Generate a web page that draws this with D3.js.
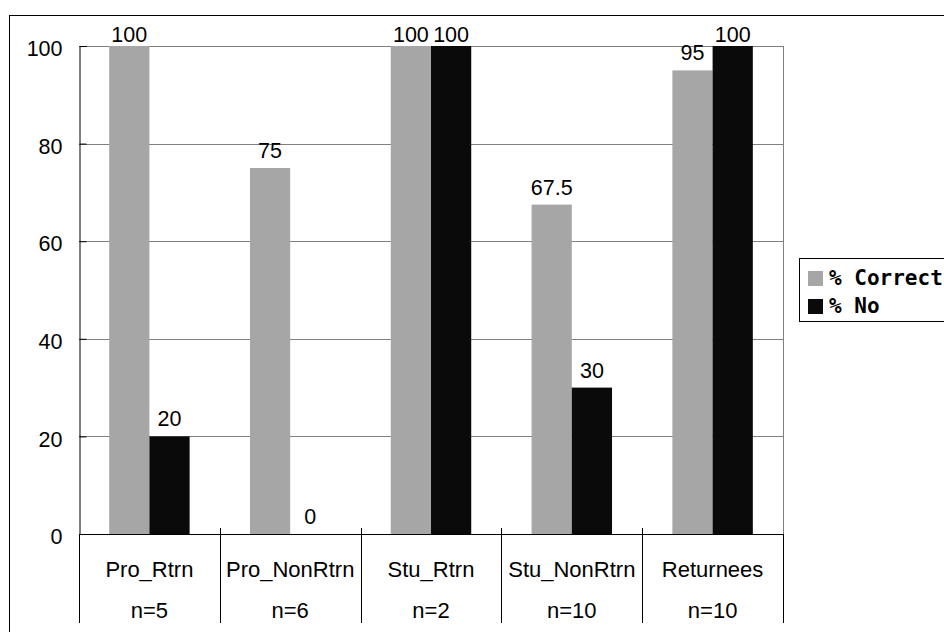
<!DOCTYPE html>
<html>
<head>
<meta charset="utf-8">
<script src="https://cdn.jsdelivr.net/npm/d3@7"></script>
<style>
  html, body { margin: 0; padding: 0; background: #fff; }
  svg { display: block; }
</style>
</head>
<body>
<svg id="chart" width="944" height="632"></svg>
<script>
const categories = ["Pro_Rtrn", "Pro_NonRtrn", "Stu_Rtrn", "Stu_NonRtrn", "Returnees"];
const sampleSizes = ["n=5", "n=6", "n=2", "n=10", "n=10"];
const seriesNames = ["% Correct", "% No"];
const correctValues = [100, 75, 100, 67.5, 95];
const noValues = [20, 0, 100, 30, 100];
const yTicks = [0, 20, 40, 60, 80, 100];
const seriesColors = ["#a6a6a6", "#0a0a0a"];

const svg = d3.select("#chart");
const font = "'Liberation Sans', Arial, sans-serif";
const fs = 21.5;
const plot = { left: 79, top: 46, right: 783, bottom: 534 };

// outer chart border (extends past the window on right and bottom)
svg.append("rect")
  .attr("x", 9.5).attr("y", 15.5)
  .attr("width", 1000).attr("height", 700)
  .attr("fill", "none").attr("stroke", "#000").attr("stroke-width", 1);

const x = d3.scaleBand().domain(categories).range([plot.left, plot.right]).paddingInner(0).paddingOuter(0);
const gapFrac = 0.75 / 3.5; // Excel gap width 150%
const x1 = d3.scaleBand().domain(seriesNames)
  .range([x.bandwidth() * gapFrac, x.bandwidth() * (1 - gapFrac)]).padding(0);
const y = d3.scaleLinear().domain([0, 100]).range([plot.bottom, plot.top]);

// gridlines
svg.append("g").selectAll("line").data(yTicks.filter(t => t > 0)).join("line")
  .attr("x1", plot.left).attr("x2", plot.right)
  .attr("y1", d => Math.round(y(d)) + 0.5).attr("y2", d => Math.round(y(d)) + 0.5)
  .attr("stroke", "#808080").attr("stroke-width", 1);

// plot right border
svg.append("line")
  .attr("x1", plot.right + 0.5).attr("x2", plot.right + 0.5)
  .attr("y1", plot.top).attr("y2", plot.bottom)
  .attr("stroke", "#808080");

// bars
const rows = categories.map((c, i) => ({ cat: c, vals: [correctValues[i], noValues[i]] }));
const groups = svg.append("g").selectAll("g").data(rows).join("g")
  .attr("transform", d => `translate(${x(d.cat)},0)`);
groups.selectAll("rect").data(d => d.vals.map((v, j) => ({ v, s: seriesNames[j], j }))).join("rect")
  .attr("x", d => x1(d.s))
  .attr("width", x1.bandwidth())
  .attr("y", d => y(d.v))
  .attr("height", d => y(0) - y(d.v))
  .attr("fill", d => seriesColors[d.j]);

// data labels
groups.selectAll("text").data(d => d.vals.map((v, j) => ({ v, s: seriesNames[j] }))).join("text")
  .attr("x", d => x1(d.s) + x1.bandwidth() / 2)
  .attr("y", d => Math.max(y(d.v) - 10, plot.top - 4))
  .attr("text-anchor", "middle")
  .attr("font-family", font).attr("font-size", fs).attr("fill", "#000")
  .text(d => d.v);

// y axis
const yAxis = d3.axisLeft(y).tickValues(yTicks).tickSize(-7).tickPadding(0).tickFormat(d3.format("d"));
const gy = svg.append("g").attr("transform", `translate(${plot.left + 0.5},0)`).call(yAxis);
gy.select(".domain").attr("stroke", "#000");
gy.selectAll(".tick line").attr("stroke", "#000");
gy.selectAll(".tick text")
  .attr("x", 62 - plot.left).attr("dy", "0.36em").attr("y", 2)
  .attr("font-family", font).attr("font-size", fs).attr("fill", "#000");

// x axis line
svg.append("line")
  .attr("x1", plot.left).attr("x2", plot.right + 1)
  .attr("y1", plot.bottom + 0.5).attr("y2", plot.bottom + 0.5)
  .attr("stroke", "#000");

// category separators
const sepX = categories.map(c => x(c)).concat([x(categories[categories.length - 1]) + x.bandwidth()]);
svg.append("g").selectAll("line").data(sepX).join("line")
  .attr("x1", d => Math.round(d) + 0.5).attr("x2", d => Math.round(d) + 0.5)
  .attr("y1", (d, i) => (i === 0 || i === sepX.length - 1) ? plot.bottom : plot.bottom - 6)
  .attr("y2", 623)
  .attr("stroke", "#000");

// category labels
svg.append("g").selectAll("text").data(categories).join("text")
  .attr("x", d => x(d) + x.bandwidth() / 2).attr("y", 577)
  .attr("text-anchor", "middle")
  .attr("font-family", font).attr("font-size", 22).attr("fill", "#000")
  .text(d => d);
svg.append("g").selectAll("text").data(sampleSizes).join("text")
  .attr("x", (d, i) => x(categories[i]) + x.bandwidth() / 2).attr("y", 618)
  .attr("text-anchor", "middle")
  .attr("font-family", font).attr("font-size", 22).attr("fill", "#000")
  .text(d => d);

// legend
const lg = svg.append("g");
lg.append("rect").attr("x", 799.5).attr("y", 258.5).attr("width", 300).attr("height", 63)
  .attr("fill", "#fff").attr("stroke", "#000");
const li = lg.selectAll("g").data(seriesNames).join("g")
  .attr("transform", (d, i) => `translate(0,${i * 28})`);
li.append("rect").attr("x", 808).attr("y", 271).attr("width", 15).attr("height", 15)
  .attr("fill", (d, i) => seriesColors[i]);
li.append("text").attr("x", 829).attr("y", 285)
  .attr("font-family", "'DejaVu Sans Mono', monospace").attr("font-weight", "bold")
  .attr("font-size", 21).attr("fill", "#000")
  .attr("xml:space", "preserve")
  .text(d => d);
</script>
</body>
</html>
